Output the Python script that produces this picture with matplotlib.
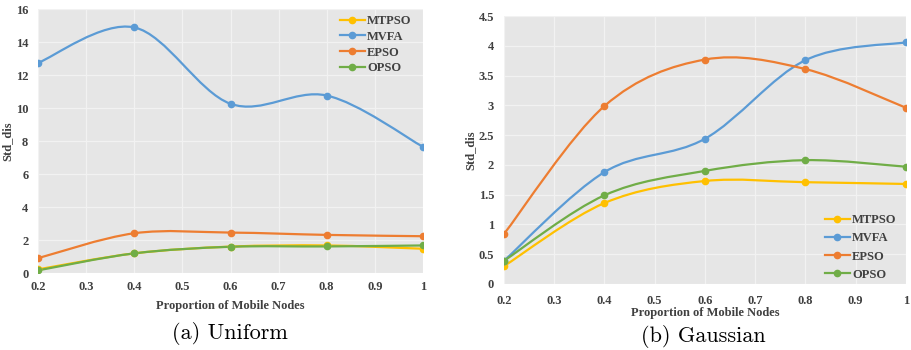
import matplotlib.pyplot as plt
from matplotlib.path import Path
from matplotlib.patches import PathPatch
from matplotlib.lines import Line2D

# proportion of mobile nodes
x = [0.2, 0.4, 0.6, 0.8, 1.0]
names = ['MTPSO', 'MVFA', 'EPSO', 'OPSO']
colors = ['#FFC000', '#5B9BD5', '#ED7D31', '#70AD47']

# (a) Uniform
uni_mtpso = [0.22, 1.19, 1.60, 1.67, 1.47]
uni_mvfa = [12.74, 14.89, 10.26, 10.76, 7.65]
uni_epso = [0.90, 2.41, 2.45, 2.31, 2.23]
uni_opso = [0.16, 1.19, 1.59, 1.61, 1.67]

# (b) Gaussian
gau_mtpso = [0.30, 1.36, 1.73, 1.71, 1.68]
gau_mvfa = [0.39, 1.88, 2.44, 3.76, 4.06]
gau_epso = [0.84, 2.99, 3.77, 3.61, 2.96]
gau_opso = [0.39, 1.49, 1.90, 2.08, 1.97]

tick_font = {'family': 'Liberation Serif', 'weight': 'bold', 'size': 9}


def smooth_path(xs, ys):
    # Excel style smoothed line: cubic bezier, catmull-rom control points
    verts = [(xs[0], ys[0])]
    codes = [Path.MOVETO]
    n = len(xs)
    for i in range(n - 1):
        x0, y0 = (xs[i - 1], ys[i - 1]) if i > 0 else (xs[i], ys[i])
        x3, y3 = (xs[i + 2], ys[i + 2]) if i + 2 < n else (xs[i + 1], ys[i + 1])
        c1 = (xs[i] + (xs[i + 1] - x0) / 6, ys[i] + (ys[i + 1] - y0) / 6)
        c2 = (xs[i + 1] - (x3 - xs[i]) / 6, ys[i + 1] - (y3 - ys[i]) / 6)
        verts += [c1, c2, (xs[i + 1], ys[i + 1])]
        codes += [Path.CURVE4] * 3
    return Path(verts, codes)


def draw(ax, series, ymax, ystep, legend_loc, legend_anchor, spacing, xpad, xlabpad):
    ax.set_facecolor('#E6E6E6')
    for ys, c in zip(series, colors):
        ax.add_patch(PathPatch(smooth_path(x, ys), facecolor='none',
                               edgecolor=c, lw=1.6, zorder=3))
        ax.plot(x, ys, 'o', color=c, ms=4.5, zorder=4)
    ax.set_xlim(0.2, 1.0)
    ax.set_ylim(0, ymax)
    ax.set_xticks([0.2, 0.3, 0.4, 0.5, 0.6, 0.7, 0.8, 0.9, 1.0])
    ax.set_xticklabels(['0.2', '0.3', '0.4', '0.5', '0.6', '0.7', '0.8', '0.9', '1'])
    yt = [i * ystep for i in range(int(round(ymax / ystep)) + 1)]
    ax.set_yticks(yt)
    ax.set_yticklabels(['%g' % v for v in yt])
    for lab in ax.get_xticklabels() + ax.get_yticklabels():
        lab.set_fontproperties(tick_font)
        lab.set_color('#404040')
    ax.tick_params(axis='x', length=0, pad=xpad)
    ax.tick_params(axis='y', length=0, pad=7)
    ax.grid(True, color='#F2F2F2', lw=0.9)
    ax.set_axisbelow(True)
    for s in ax.spines.values():
        s.set_visible(False)
    ax.set_ylabel('Std_dis', fontdict=tick_font, color='#404040', labelpad=2)
    ax.set_xlabel('Proportion of Mobile Nodes', fontdict=tick_font, color='#404040',
                  labelpad=xlabpad)
    handles = [Line2D([], [], color=c, lw=1.6, marker='o', ms=4.5) for c in colors]
    leg = ax.legend(handles, names, loc=legend_loc, bbox_to_anchor=legend_anchor,
                    frameon=False, prop=tick_font, handlelength=2.0,
                    handletextpad=0.2, labelspacing=spacing)
    for t in leg.get_texts():
        t.set_color('#404040')


fig = plt.figure(figsize=(9.12, 3.5), dpi=100)
ax1 = fig.add_axes([0.0417, 0.22, 0.4221, 0.754])
ax2 = fig.add_axes([0.5526, 0.1886, 0.4408, 0.7654])

draw(ax1, [uni_mtpso, uni_mvfa, uni_epso, uni_opso], 16, 2, 'upper right', (1.0, 1.02), 0.3, 6, 5)
draw(ax2, [gau_mtpso, gau_mvfa, gau_epso, gau_opso], 4.5, 0.5, 'lower right', (1.005, -0.03), 0.5, 8, 0)

fig.text(0.252, 0.048, '(a) Uniform', family='cmr10', size=16, ha='center', va='center')
fig.text(0.771, 0.04, '(b) Gaussian', family='cmr10', size=16, ha='center', va='center')

fig.savefig('out.png', dpi=100, facecolor='white')
